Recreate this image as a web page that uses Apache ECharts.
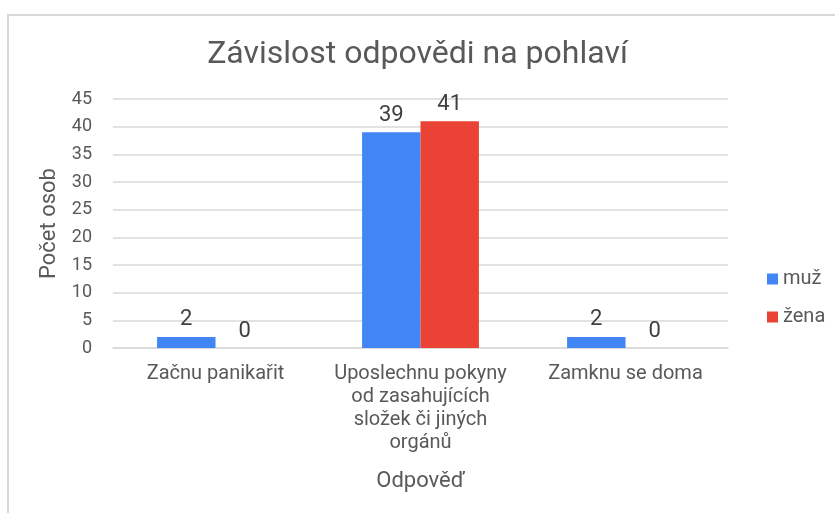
<!DOCTYPE html>
<html>
<head>
<meta charset="utf-8">
<script src="https://cdn.jsdelivr.net/npm/echarts@6/dist/echarts.min.js"></script>
<style>
  html, body { margin: 0; padding: 0; background: #fff; }
  #chart { width: 835px; height: 513px; }
</style>
</head>
<body>
<div id="chart"></div>
<script>
// data
const categories = [
  'Začnu panikařit',
  'Uposlechnu pokyny\nod zasahujících\nsložek či jiných\norgánů',
  'Zamknu se doma'
];
const muz = [2, 39, 2];
const zena = [0, 41, 0];
const seriesNames = ['muž', 'žena'];

const chart = echarts.init(document.getElementById('chart'));

const labelStyle = {
  show: true,
  position: 'top',
  distance: 6,
  color: '#404040',
  fontSize: 22,
  fontFamily: 'Roboto'
};

var option = {
  animation: false,
  textStyle: { fontFamily: 'Roboto' },
  graphic: [{
    type: 'rect',
    shape: { x: 8, y: 15, width: 840, height: 510 },
    style: { fill: 'none', stroke: '#d9d9d9', lineWidth: 2 },
    silent: true
  }],
  title: {
    text: 'Závislost odpovědi na pohlaví',
    left: 'center',
    top: 34,
    textStyle: {
      color: '#595959',
      fontSize: 32,
      fontWeight: 'normal',
      fontFamily: 'Roboto'
    }
  },
  legend: {
    data: seriesNames,
    orient: 'vertical',
    left: 762,
    top: 264,
    itemWidth: 11,
    itemHeight: 11,
    itemGap: 18,
    icon: 'rect',
    textStyle: { color: '#595959', fontSize: 20 }
  },
  grid: {
    left: 113,
    right: 107,
    top: 99,
    bottom: 165
  },
  xAxis: {
    type: 'category',
    data: categories,
    name: 'Odpověď',
    nameLocation: 'middle',
    nameGap: 122,
    nameTextStyle: { color: '#595959', fontSize: 22 },
    axisLine: { lineStyle: { color: '#d9d9d9', width: 1.5 } },
    axisTick: { show: false },
    axisLabel: {
      color: '#595959',
      fontSize: 20,
      margin: 14,
      lineHeight: 23,
      interval: 0
    }
  },
  yAxis: {
    type: 'value',
    min: 0,
    max: 45,
    interval: 5,
    name: 'Počet osob',
    nameLocation: 'middle',
    nameGap: 50,
    nameTextStyle: { color: '#595959', fontSize: 22 },
    axisLine: { show: false },
    axisTick: { show: false },
    axisLabel: { color: '#595959', fontSize: 18, margin: 21 },
    splitLine: { lineStyle: { color: '#d9d9d9', width: 1.5 } }
  },
  series: [{
    name: seriesNames[0],
    type: 'bar',
    data: muz,
    itemStyle: { color: '#4285f4' },
    barGap: '0%',
    barCategoryGap: '43%',
    label: labelStyle
  }, {
    name: seriesNames[1],
    type: 'bar',
    data: zena,
    itemStyle: { color: '#ea4335' },
    barGap: '0%',
    barCategoryGap: '43%',
    label: labelStyle
  }]
};

chart.setOption(option);
</script>
</body>
</html>
